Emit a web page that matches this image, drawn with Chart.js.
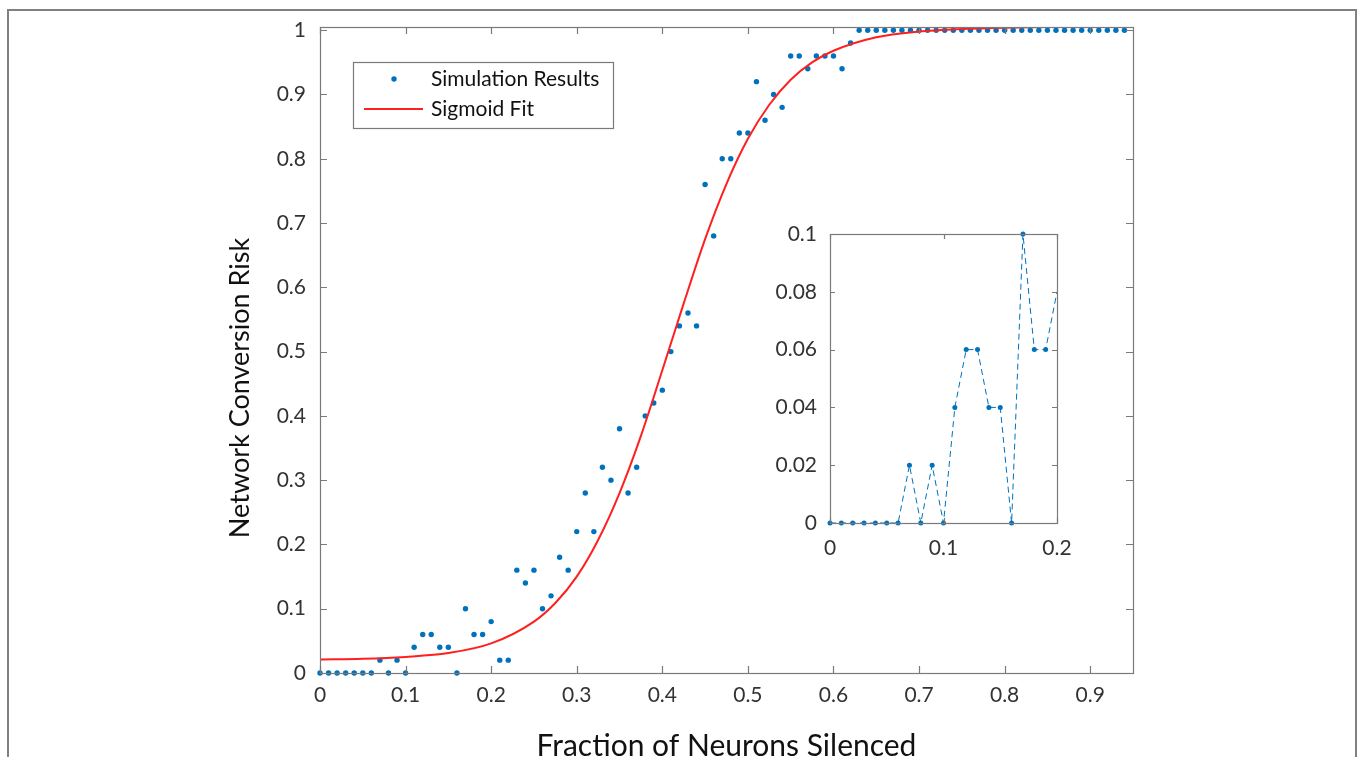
<!DOCTYPE html>
<html>
<head>
<meta charset="utf-8">
<script src="https://cdn.jsdelivr.net/npm/chart.js@4.4.1/dist/chart.umd.min.js"></script>
<style>
  html, body { margin: 0; padding: 0; background: #fff; }
  #wrap { position: relative; width: 1360px; height: 757px; overflow: hidden; }
  #main { position: absolute; left: 0; top: 0; }
  #inset { position: absolute; left: 760px; top: 215px; }
</style>
</head>
<body>
<div id="wrap">
  <canvas id="main" width="1360" height="757"></canvas>
  <canvas id="inset" width="320" height="350"></canvas>
</div>
<script>
// fraction of neurons silenced (x) and simulated conversion risk (y)
const simX = [0, 0.01, 0.02, 0.03, 0.04, 0.05, 0.06, 0.07, 0.08, 0.09,
  0.1, 0.11, 0.12, 0.13, 0.14, 0.15, 0.16, 0.17, 0.18, 0.19,
  0.2, 0.21, 0.22, 0.23, 0.24, 0.25, 0.26, 0.27, 0.28, 0.29,
  0.3, 0.31, 0.32, 0.33, 0.34, 0.35, 0.36, 0.37, 0.38, 0.39,
  0.4, 0.41, 0.42, 0.43, 0.44, 0.45, 0.46, 0.47, 0.48, 0.49,
  0.5, 0.51, 0.52, 0.53, 0.54, 0.55, 0.56, 0.57, 0.58, 0.59,
  0.6, 0.61, 0.62, 0.63, 0.64, 0.65, 0.66, 0.67, 0.68, 0.69,
  0.7, 0.71, 0.72, 0.73, 0.74, 0.75, 0.76, 0.77, 0.78, 0.79,
  0.8, 0.81, 0.82, 0.83, 0.84, 0.85, 0.86, 0.87, 0.88, 0.89,
  0.9, 0.91, 0.92, 0.93, 0.94];
const simY = [0, 0, 0, 0, 0, 0, 0, 0.02, 0, 0.02,
  0, 0.04, 0.06, 0.06, 0.04, 0.04, 0, 0.10, 0.06, 0.06,
  0.08, 0.02, 0.02, 0.16, 0.14, 0.16, 0.10, 0.12, 0.18, 0.16,
  0.22, 0.28, 0.22, 0.32, 0.30, 0.38, 0.28, 0.32, 0.40, 0.42,
  0.44, 0.50, 0.54, 0.56, 0.54, 0.76, 0.68, 0.80, 0.80, 0.84,
  0.84, 0.92, 0.86, 0.90, 0.88, 0.96, 0.96, 0.94, 0.96, 0.96,
  0.96, 0.94, 0.98, 1, 1, 1, 1, 1, 1, 1,
  1, 1, 1, 1, 1, 1, 1, 1, 1, 1,
  1, 1, 1, 1, 1, 1, 1, 1, 1, 1,
  1, 1, 1, 1, 1];

// sigmoid fit
const fitX = [0, 0.05, 0.1, 0.15, 0.2, 0.25, 0.275, 0.3, 0.325, 0.35, 0.375, 0.4, 0.425,
  0.45, 0.475, 0.5, 0.525, 0.55, 0.575, 0.6, 0.65, 0.7, 0.75, 0.8, 0.85, 0.9, 0.95];
const fitY = [0.021, 0.022, 0.025, 0.031, 0.046, 0.080, 0.109, 0.150, 0.207, 0.280, 0.369, 0.471, 0.575,
  0.675, 0.761, 0.831, 0.884, 0.923, 0.950, 0.968, 0.989, 0.998, 1.002, 1.004, 1.005, 1.005, 1.005];

const seriesNames = ['Simulation Results', 'Sigmoid Fit'];
const xTitle = 'Fraction of Neurons Silenced';
const yTitle = 'Network Conversion Risk';
const insetMaxX = 0.2;

const blue = '#0072BD';
const red = '#ff1f1f';
const axisGray = '#7a7a7a';
const textCol = '#333';
const FONT = 'Lato';

// tick labels like matlab: 1, 0.1 (no trailing zeros)
const fmt = v => String(+v.toFixed(4));

// keep label overflow from shrinking the plot box
function fixX(h) {
  return s => { s.height = h; s.paddingLeft = 0; s.paddingRight = 0; };
}
function fixY(w) {
  return s => { s.width = w; s.paddingTop = 0; s.paddingBottom = 0; };
}

// matlab style box with inward ticks on all four sides
const boxPlugin = {
  id: 'matlabBox',
  beforeDraw(chart, args, opts) {
    const { ctx, chartArea: a } = chart;
    if (opts.fillArea) {
      ctx.save();
      ctx.fillStyle = '#fff';
      ctx.fillRect(a.left, a.top, a.right - a.left, a.bottom - a.top);
      ctx.restore();
    }
  },
  afterDraw(chart, args, opts) {
    const { ctx, chartArea: a, scales } = chart;
    const tl = opts.tick;
    ctx.save();
    ctx.strokeStyle = axisGray;
    ctx.lineWidth = 1.2;
    ctx.beginPath();
    scales.x.ticks.forEach(t => {
      const px = Math.round(scales.x.getPixelForValue(t.value)) + 0.5;
      ctx.moveTo(px, a.bottom); ctx.lineTo(px, a.bottom - tl);
      ctx.moveTo(px, a.top); ctx.lineTo(px, a.top + tl);
    });
    scales.y.ticks.forEach(t => {
      const py = Math.round(scales.y.getPixelForValue(t.value)) + 0.5;
      ctx.moveTo(a.left, py); ctx.lineTo(a.left + tl, py);
      ctx.moveTo(a.right, py); ctx.lineTo(a.right - tl, py);
    });
    ctx.stroke();
    ctx.strokeRect(Math.round(a.left) + 0.5, Math.round(a.top) + 0.5,
      Math.round(a.right - a.left), Math.round(a.bottom - a.top));
    ctx.restore();
  }
};

// figure frame, legend and axis titles of the main plot
const decorPlugin = {
  id: 'decor',
  beforeDraw(chart) {
    const ctx = chart.ctx;
    ctx.save();
    ctx.fillStyle = '#fff';
    ctx.fillRect(0, 0, chart.width, chart.height);
    ctx.strokeStyle = '#808080';
    ctx.lineWidth = 2;
    ctx.strokeRect(8, 10, 1348, 800);
    ctx.restore();
  },
  afterDraw(chart) {
    const { ctx, chartArea: a } = chart;
    const ds = chart.data.datasets;
    ctx.save();
    // legend
    ctx.fillStyle = '#fff';
    ctx.fillRect(353, 62, 260, 66);
    ctx.strokeStyle = axisGray;
    ctx.lineWidth = 1.2;
    ctx.strokeRect(353.5, 62.5, 260, 66);
    ctx.fillStyle = blue;
    ctx.beginPath();
    ctx.arc(394, 79, 2.7, 0, Math.PI * 2);
    ctx.fill();
    ctx.strokeStyle = red;
    ctx.lineWidth = 2;
    ctx.beginPath();
    ctx.moveTo(364, 109); ctx.lineTo(423, 109);
    ctx.stroke();
    ctx.fillStyle = '#111';
    ctx.font = '21px ' + FONT;
    ctx.textBaseline = 'middle';
    ctx.textAlign = 'left';
    ctx.fillText(ds[1].label, 431, 79);
    ctx.fillText(ds[0].label, 431, 109);
    // axis titles
    ctx.fillStyle = '#111';
    ctx.textAlign = 'center';
    ctx.font = '30px ' + FONT;
    ctx.fillText(xTitle, (a.left + a.right) / 2, 746);
    ctx.translate(240, 388);
    ctx.rotate(-Math.PI / 2);
    ctx.font = '27px ' + FONT;
    ctx.fillText(yTitle, 0, 0);
    ctx.restore();
  }
};

const tickFont = { family: FONT, size: 21 };

new Chart(document.getElementById('main'), {
  type: 'scatter',
  data: {
    datasets: [
      {
        label: seriesNames[1],
        data: fitX.map((x, i) => ({ x: x, y: fitY[i] })),
        showLine: true,
        pointRadius: 0,
        borderColor: red,
        borderWidth: 2,
        cubicInterpolationMode: 'monotone',
        order: 0
      },
      {
        label: seriesNames[0],
        data: simX.map((x, i) => ({ x: x, y: simY[i] })),
        showLine: false,
        pointRadius: 2.7,
        pointBackgroundColor: blue,
        pointBorderWidth: 0,
        clip: false,
        order: 1
      }
    ]
  },
  options: {
    responsive: false,
    animation: false,
    devicePixelRatio: 1,
    layout: { padding: { left: 0, top: 27, right: 227, bottom: 0 } },
    plugins: {
      legend: { display: false },
      tooltip: { enabled: false },
      matlabBox: { tick: 7 }
    },
    scales: {
      x: {
        type: 'linear', min: 0, max: 0.95,
        afterFit: fixX(84),
        grid: { display: false, drawTicks: false },
        border: { display: false },
        ticks: { stepSize: 0.1, includeBounds: false, autoSkip: false, maxRotation: 0,
          padding: 10, color: textCol, font: tickFont, callback: fmt }
      },
      y: {
        type: 'linear', min: 0, max: 1.005,
        afterFit: fixY(320),
        grid: { display: false, drawTicks: false },
        border: { display: false },
        ticks: { stepSize: 0.1, includeBounds: false, autoSkip: false,
          padding: 14, color: textCol, font: tickFont, callback: fmt }
      }
    }
  },
  plugins: [decorPlugin, boxPlugin]
});

// inset: zoom on the first part of the curve
const insetPts = [];
simX.forEach((x, i) => { if (x <= insetMaxX + 0.011) insetPts.push({ x: x, y: simY[i] }); });

new Chart(document.getElementById('inset'), {
  type: 'scatter',
  data: {
    datasets: [{
      label: seriesNames[0],
      data: insetPts,
      showLine: true,
      borderColor: blue,
      borderWidth: 1,
      borderDash: [6, 4],
      pointRadius: c => (c.raw && c.raw.x > insetMaxX - 0.005) ? 0 : 2.5,
      pointBackgroundColor: blue,
      pointBorderWidth: 0,
      clip: { left: 5, top: 5, right: 0, bottom: 5 }
    }]
  },
  options: {
    responsive: false,
    animation: false,
    devicePixelRatio: 1,
    layout: { padding: { left: 0, top: 19, right: 23, bottom: 0 } },
    plugins: {
      legend: { display: false },
      tooltip: { enabled: false },
      matlabBox: { tick: 5, fillArea: true }
    },
    scales: {
      x: {
        type: 'linear', min: 0, max: insetMaxX,
        afterFit: fixX(42),
        grid: { display: false, drawTicks: false },
        border: { display: false },
        ticks: { stepSize: 0.1, includeBounds: false, autoSkip: false, maxRotation: 0,
          padding: 13, color: textCol, font: tickFont, callback: fmt }
      },
      y: {
        type: 'linear', min: 0, max: 0.1,
        afterFit: fixY(70),
        grid: { display: false, drawTicks: false },
        border: { display: false },
        ticks: { stepSize: 0.02, includeBounds: false, autoSkip: false,
          padding: 13, color: textCol, font: tickFont, callback: fmt }
      }
    }
  },
  plugins: [boxPlugin]
});
</script>
</body>
</html>
